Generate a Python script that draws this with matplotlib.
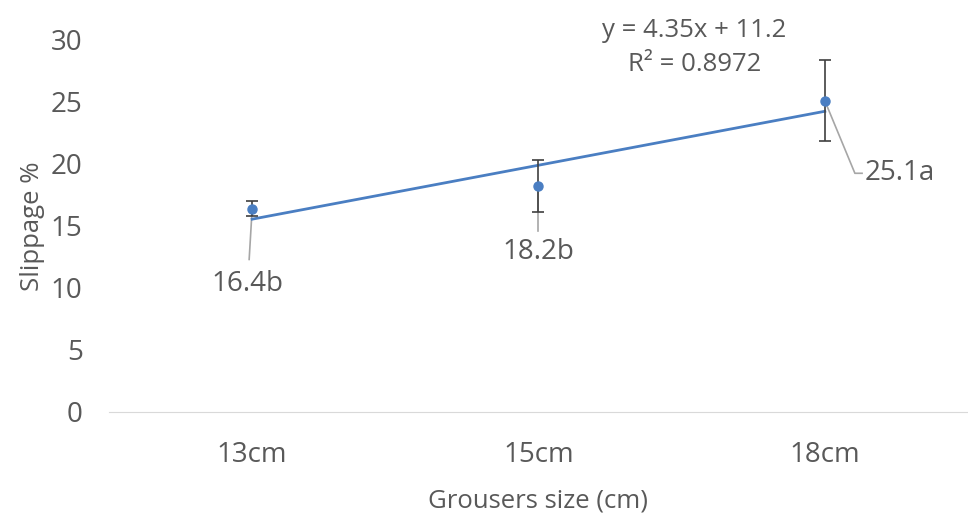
import numpy as np
import matplotlib.pyplot as plt

plt.rcParams['font.family'] = ['Open Sans', 'DejaVu Sans']

categories = ["13cm", "15cm", "18cm"]
slippage = [16.4, 18.2, 25.1]
errors = [0.6, 2.1, 3.25]
labels = ["16.4b", "18.2b", "25.1a"]
slope, intercept = 4.35, 11.2
eq_text = "y = 4.35x + 11.2\nR² = 0.8972"

txt = "#595959"
fig = plt.figure(figsize=(9.68, 5.16), dpi=100)
ax = fig.add_axes([0.1126, 0.2016, 0.8874, 0.7209])

x = np.arange(len(categories))
trend = [slope * (i + 1) + intercept for i in x]
ax.plot(x, trend, color="#4A7EC2", lw=2, zorder=2)
ax.errorbar(x, slippage, yerr=errors, fmt="o", color="#4A7EC2", ms=6.5,
            ecolor="#404040", elinewidth=1.2, capsize=4, capthick=1.2, zorder=3)

# data labels with leader lines (label centre, leader end)
label_pos = [(-0.015, 10.3, 12.3), (0.0, 12.9, 14.6), (0.14, 19.25, 19.25)]
for i, (lab, (dx, ly, lend)) in enumerate(zip(labels, label_pos)):
    if i < 2:
        ax.plot([x[i], x[i] + dx * 0.7], [slippage[i], lend], color="#A6A6A6", lw=1.2, zorder=1)
        ax.text(x[i] + dx, ly, lab, ha="center", va="center", fontsize=20, color=txt)
    else:
        ax.plot([x[i], x[i] + 0.105, x[i] + 0.13], [slippage[i], lend, lend],
                color="#A6A6A6", lw=1.2, zorder=1)
        ax.text(x[i] + dx, ly, lab, ha="left", va="center", fontsize=20, color=txt)

ax.text(1.545, 29.4, eq_text, ha="center", va="center", fontsize=18.5, color=txt,
        linespacing=1.5)

ax.set_xlim(-0.5, 2.5)
ax.set_ylim(0, 30)
ax.set_yticks(range(0, 31, 5))
ax.set_xticks(x)
ax.set_xticklabels(categories)
ax.tick_params(length=0, labelsize=20, labelcolor=txt)
ax.tick_params(axis="y", pad=19)
ax.tick_params(axis="x", pad=21)
for s in ["top", "right", "left"]:
    ax.spines[s].set_visible(False)
ax.spines["bottom"].set_color("#D9D9D9")
ax.set_ylabel("Slippage %", fontsize=18.5, color=txt, labelpad=4)
ax.set_xlabel("Grousers size (cm)", fontsize=18.5, color=txt, labelpad=14)

fig.savefig("out.png", dpi=100)
